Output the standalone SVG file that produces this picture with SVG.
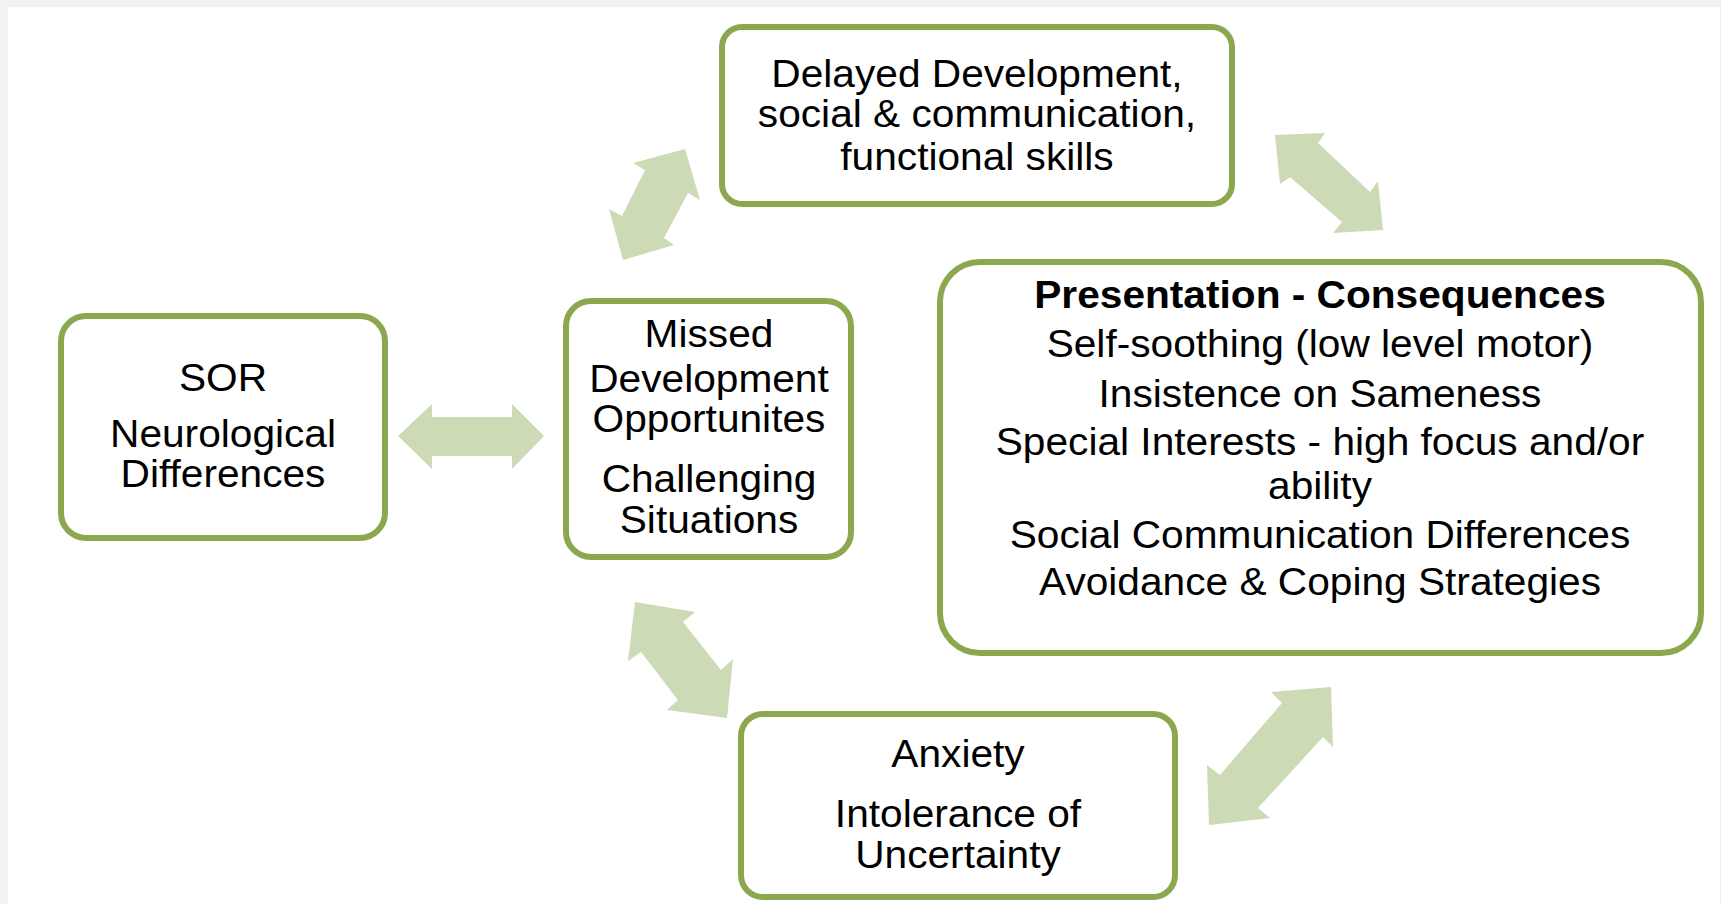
<svg xmlns="http://www.w3.org/2000/svg" width="1721" height="904" viewBox="0 0 1721 904">
<defs>
<style>
.box{fill:#fff;stroke:#8BA84F;stroke-width:6}
.arr{fill:#CDDAB6}
.t{font-family:"Liberation Sans",Arial,sans-serif;font-size:38px;fill:#000;text-anchor:middle}
.b{font-weight:bold}
</style>
</defs>
<rect x="0" y="0" width="1721" height="904" fill="#F2F2F2"/>
<rect x="8" y="7" width="1712" height="897" fill="#FFFFFF"/>
<g id="connectors">
<polygon class="arr" points="685,149 700,200 688,193 664,238 674,245 623,260 609,209 622,216 645,170 633,163"/>
<polygon class="arr" points="1275,135 1325,133 1318,143 1370,192 1378,181 1383,230 1333,233 1342,222 1290,177 1280,184"/>
<polygon class="arr" points="398,436 432,404 432,417 512,417 512,404 544,436 512,469 512,456 432,456 432,469"/>
<polygon class="arr" points="635,602 695,612 683,622 721,670 733,659 727,718 667,710 678,700 641,652 628,661"/>
<polygon class="arr" points="1331,687 1271,692 1282,703 1220,775 1207,765 1209,825 1270,818 1258,808 1323,737 1333,747"/>
</g>
<g id="node-sor">
<rect class="box" x="61" y="316" width="324" height="222" rx="25"/>
<g transform="translate(223,0) scale(1.07,1)">
<text class="t" x="0" y="391">SOR</text>
<text class="t" x="0" y="447">Neurological</text>
<text class="t" x="0" y="487">Differences</text>
</g>
</g>
<g id="node-missed">
<rect class="box" x="566" y="301" width="285" height="256" rx="25"/>
<g transform="translate(709,0) scale(1.07,1)">
<text class="t" x="0" y="347">Missed</text>
<text class="t" x="0" y="392">Development</text>
<text class="t" x="0" y="432">Opportunites</text>
<text class="t" x="0" y="492">Challenging</text>
<text class="t" x="0" y="533">Situations</text>
</g>
</g>
<g id="node-delayed">
<rect class="box" x="722" y="27" width="510" height="177" rx="20"/>
<g transform="translate(977,0) scale(1.07,1)">
<text class="t" x="0" y="87">Delayed Development,</text>
<text class="t" x="0" y="127">social &amp; communication,</text>
<text class="t" x="0" y="170">functional skills</text>
</g>
</g>
<g id="node-presentation">
<rect class="box" x="940" y="262" width="761" height="391" rx="40"/>
<g transform="translate(1320,0) scale(1.07,1)">
<text class="t b" x="0" y="308">Presentation - Consequences</text>
<text class="t" x="0" y="357">Self-soothing (low level motor)</text>
<text class="t" x="0" y="407">Insistence on Sameness</text>
<text class="t" x="0" y="455">Special Interests - high focus and/or</text>
<text class="t" x="0" y="499">ability</text>
<text class="t" x="0" y="548">Social Communication Differences</text>
<text class="t" x="0" y="595">Avoidance &amp; Coping Strategies</text>
</g>
</g>
<g id="node-anxiety">
<rect class="box" x="741" y="714" width="434" height="183" rx="22"/>
<g transform="translate(958,0) scale(1.07,1)">
<text class="t" x="0" y="767">Anxiety</text>
<text class="t" x="0" y="827">Intolerance of</text>
<text class="t" x="0" y="868">Uncertainty</text>
</g>
</g>
</svg>
